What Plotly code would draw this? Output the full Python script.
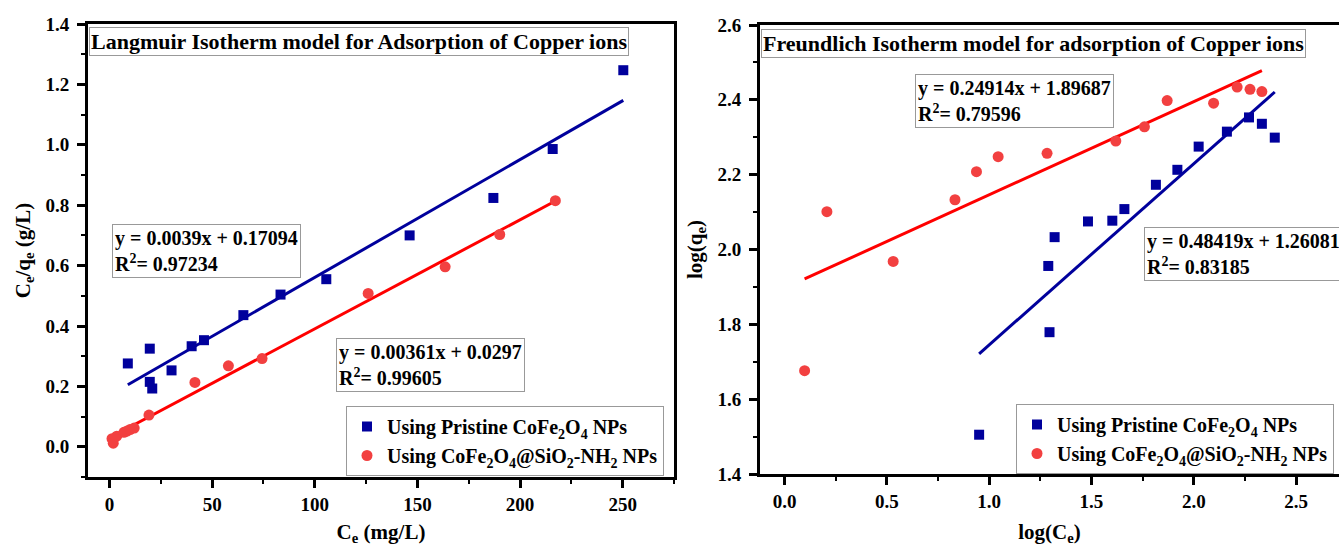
import plotly.graph_objects as go

# ---------------- data ----------------
# Langmuir (left): Ce (mg/L) vs Ce/qe (g/L)
lang_pristine_x = [8.9, 19.6, 19.6, 20.8, 30.2, 40.0, 46.0, 65.2, 83.3, 105.6, 146.2, 187.0, 215.9, 250.3]
lang_pristine_y = [0.276, 0.325, 0.215, 0.193, 0.253, 0.333, 0.353, 0.436, 0.504, 0.555, 0.700, 0.824, 0.986, 1.247]
lang_sio2_x = [1.2, 1.8, 3.5, 7.0, 8.5, 10.0, 12.0, 19.2, 41.6, 57.9, 74.3, 126.0, 163.5, 190.1, 217.2]
lang_sio2_y = [0.027, 0.012, 0.035, 0.048, 0.052, 0.057, 0.062, 0.105, 0.213, 0.268, 0.292, 0.508, 0.596, 0.703, 0.815]

# Freundlich (right): log(Ce) vs log(qe)
freu_pristine_x = [0.951, 1.289, 1.295, 1.320, 1.483, 1.602, 1.661, 1.815, 1.920, 2.024, 2.162, 2.270, 2.333, 2.396]
freu_pristine_y = [1.505, 1.956, 1.779, 2.033, 2.075, 2.077, 2.108, 2.173, 2.213, 2.275, 2.315, 2.353, 2.336, 2.299]
freu_sio2_x = [0.098, 0.207, 0.531, 0.833, 0.938, 1.044, 1.283, 1.619, 1.759, 1.870, 2.097, 2.212, 2.275, 2.333]
freu_sio2_y = [1.676, 2.101, 1.968, 2.133, 2.208, 2.248, 2.257, 2.290, 2.328, 2.398, 2.391, 2.434, 2.428, 2.422]

# linear fits shown in the chart: slope, intercept, x-span of the drawn line
lang_fit_pristine = (0.0039, 0.17094, [8.9, 250.3])
lang_fit_sio2 = (0.00361, 0.0297, [1.2, 217.2])
freu_fit_pristine = (0.48419, 1.26081, [0.951, 2.396])
freu_fit_sio2 = (0.24914, 1.89687, [0.098, 2.333])

name_pristine = "Using Pristine CoFe<sub>2</sub>O<sub>4</sub> NPs"
name_sio2 = "Using CoFe<sub>2</sub>O<sub>4</sub>@SiO<sub>2</sub>-NH<sub>2</sub> NPs"

title_left = "Langmuir Isotherm model for Adsorption of Copper ions"
title_right = "Freundlich Isotherm model for adsorption of Copper ions"
eq_lang_pristine = "y = 0.0039x + 0.17094<br>R<sup>2</sup>= 0.97234"
eq_lang_sio2 = "y = 0.00361x + 0.0297<br>R<sup>2</sup>= 0.99605"
eq_freu_sio2 = "y = 0.24914x + 1.89687<br>R<sup>2</sup>= 0.79596"
eq_freu_pristine = "y = 0.48419x + 1.26081<br>R<sup>2</sup>= 0.83185"

# ---------------- styling ----------------
BLUE = "#00009C"
RED_LINE = "#FF0000"
RED_MK = "#F24040"
FONT = "Liberation Serif"
W, H = 1339, 546


def fit_line(fit):
    m, b, xs = fit
    return xs, [m * x + b for x in xs]


fig = go.Figure()

# left panel
fx, fy = fit_line(lang_fit_pristine)
fig.add_trace(go.Scatter(x=fx, y=fy, mode="lines", line=dict(color=BLUE, width=3),
                         showlegend=False, xaxis="x", yaxis="y"))
fx, fy = fit_line(lang_fit_sio2)
fig.add_trace(go.Scatter(x=fx, y=fy, mode="lines", line=dict(color=RED_LINE, width=3),
                         showlegend=False, xaxis="x", yaxis="y"))
fig.add_trace(go.Scatter(x=lang_pristine_x, y=lang_pristine_y, mode="markers", name=name_pristine,
                         marker=dict(symbol="square", size=10, color=BLUE),
                         xaxis="x", yaxis="y", legend="legend"))
fig.add_trace(go.Scatter(x=lang_sio2_x, y=lang_sio2_y, mode="markers", name=name_sio2,
                         marker=dict(symbol="circle", size=11, color=RED_MK),
                         xaxis="x", yaxis="y", legend="legend"))

# right panel
fx, fy = fit_line(freu_fit_pristine)
fig.add_trace(go.Scatter(x=fx, y=fy, mode="lines", line=dict(color=BLUE, width=3),
                         showlegend=False, xaxis="x2", yaxis="y2"))
fx, fy = fit_line(freu_fit_sio2)
fig.add_trace(go.Scatter(x=fx, y=fy, mode="lines", line=dict(color=RED_LINE, width=3),
                         showlegend=False, xaxis="x2", yaxis="y2"))
fig.add_trace(go.Scatter(x=freu_pristine_x, y=freu_pristine_y, mode="markers", name=name_pristine,
                         marker=dict(symbol="square", size=10, color=BLUE),
                         xaxis="x2", yaxis="y2", legend="legend2"))
fig.add_trace(go.Scatter(x=freu_sio2_x, y=freu_sio2_y, mode="markers", name=name_sio2,
                         marker=dict(symbol="circle", size=11, color=RED_MK),
                         xaxis="x2", yaxis="y2", legend="legend2"))

# panel pixel boxes
L = dict(x0=88, x1=674, y0=24, y1=477)
R = dict(x0=760, x1=1339, y0=25, y1=474)


def axis_common(**kw):
    d = dict(showgrid=False, zeroline=False, showline=True, linecolor="black", linewidth=3,
             ticks="outside", ticklen=8, tickwidth=2.5, tickcolor="black",
             tickfont=dict(family=FONT, size=19, color="black", weight="bold"),
             title_font=dict(family=FONT, size=21, color="black", weight="bold"),
             automargin=False)
    d.update(kw)
    return d


fig.update_layout(
    width=W, height=H,
    template="none",
    paper_bgcolor="white", plot_bgcolor="white",
    margin=dict(l=0, r=0, t=0, b=0),
    font=dict(family=FONT, size=19, color="black", weight="bold"),
    xaxis=axis_common(domain=[L["x0"] / W, L["x1"] / W], range=[-10.5, 275], anchor="y",
                      tick0=0, dtick=50, mirror=True,
                      minor=dict(ticks="outside", ticklen=4, tickwidth=2, dtick=25, tick0=0, showgrid=False),
                      title=dict(text="C<sub>e</sub> (mg/L)", standoff=14)),
    yaxis=axis_common(domain=[1 - L["y1"] / H, 1 - L["y0"] / H], range=[-0.1, 1.4], anchor="x",
                      tick0=0, dtick=0.2, tickformat=".1f", mirror=True, ticklabelstandoff=4,
                      minor=dict(ticks="outside", ticklen=4, tickwidth=2, dtick=0.1, tick0=0, showgrid=False),
                      title=dict(text="C<sub>e</sub>/q<sub>e</sub> (g/L)", standoff=10)),
    xaxis2=axis_common(domain=[R["x0"] / W, 1.0], range=[-0.12, -0.12 + (R["x1"] - R["x0"]) / 204.6],
                       anchor="y2", tick0=0, dtick=0.5, tickformat=".1f", mirror=True,
                       minor=dict(ticks="outside", ticklen=4, tickwidth=2, dtick=0.25, tick0=0, showgrid=False),
                       title=dict(text="log(C<sub>e</sub>)", standoff=14)),
    yaxis2=axis_common(domain=[1 - R["y1"] / H, 1 - R["y0"] / H], range=[1.4, 2.6], anchor="x2",
                       tick0=1.4, dtick=0.2, tickformat=".1f", ticklabelstandoff=4,
                       minor=dict(ticks="outside", ticklen=4, tickwidth=2, dtick=0.1, tick0=1.4, showgrid=False),
                       title=dict(text="log(q<sub>e</sub>)", standoff=10)),
    legend=dict(x=346 / W, y=1 - 476 / H, xanchor="left", yanchor="bottom",
                bgcolor="white", bordercolor="#999999", borderwidth=1,
                font=dict(family=FONT, size=20, color="black", weight="bold"),
                itemwidth=30, tracegroupgap=0),
    legend2=dict(x=1016 / W, y=1 - 474 / H, xanchor="left", yanchor="bottom",
                 bgcolor="white", bordercolor="#999999", borderwidth=1,
                 font=dict(family=FONT, size=20, color="black", weight="bold"),
                 itemwidth=30, tracegroupgap=0),
)


def box_note(text, px, py, panel, xref, yref, size=20, pad=2):
    return dict(text=text, xref=xref, yref=yref,
                x=(px - panel["x0"]) / (panel["x1"] - panel["x0"]),
                y=(panel["y1"] - py) / (panel["y1"] - panel["y0"]),
                xanchor="left", yanchor="top", align="left", showarrow=False,
                bgcolor="white", bordercolor="#999999", borderwidth=1, borderpad=pad,
                font=dict(family=FONT, size=size, color="black", weight="bold"))


fig.update_layout(annotations=[
    box_note(title_left, 89, 27, L, "x domain", "y domain", size=22, pad=1),
    box_note(eq_lang_pristine, 112, 224, L, "x domain", "y domain"),
    box_note(eq_lang_sio2, 336, 338, L, "x domain", "y domain"),
    box_note(title_right, 761, 29, R, "x2 domain", "y2 domain", size=22, pad=1),
    box_note(eq_freu_sio2, 915, 74, R, "x2 domain", "y2 domain"),
    box_note(eq_freu_pristine, 1144, 227, R, "x2 domain", "y2 domain"),
])

fig.write_html("out.html", config={"displayModeBar": False},
               post_script="document.body.style.margin='0px';document.body.style.overflow='hidden';")
